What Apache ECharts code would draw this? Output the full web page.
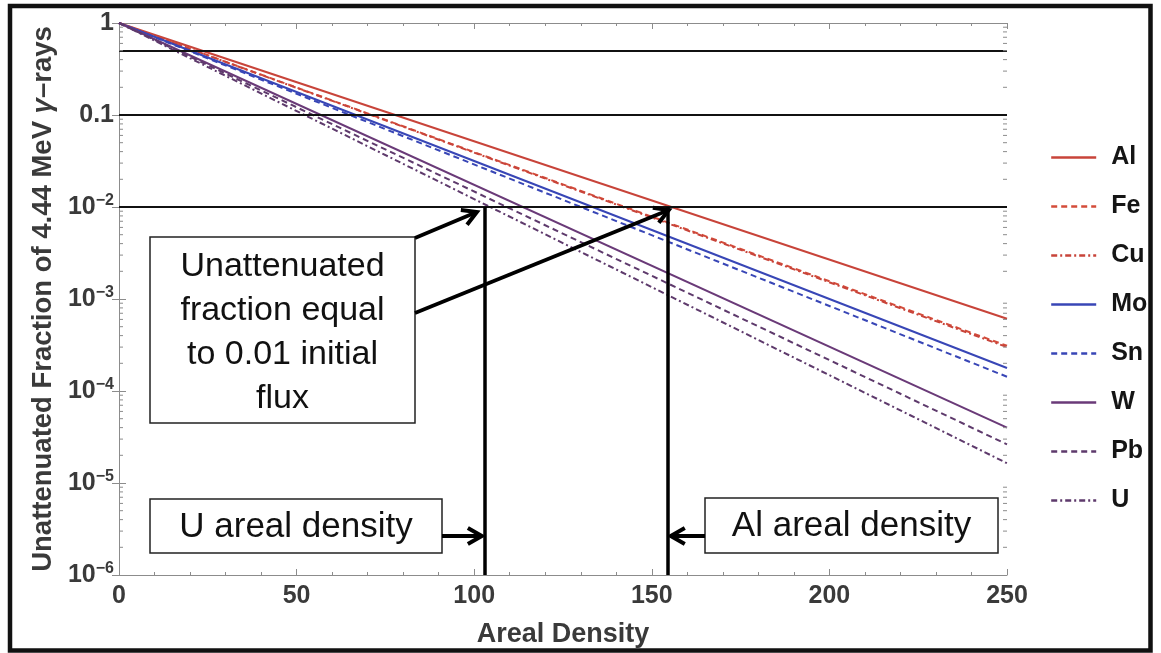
<!DOCTYPE html>
<html>
<head>
<meta charset="utf-8">
<script src="https://cdn.jsdelivr.net/npm/echarts@6/dist/echarts.min.js"></script>
<style>
  html, body { margin: 0; padding: 0; background: #fff; }
  #chart { width: 1161px; height: 653px; }
</style>
</head>
<body>
<div id="chart"></div>
<script>
// Unattenuated fraction of 4.44 MeV gamma rays versus areal density.
// Each material decays exponentially, so on a log axis it is a straight
// line from the unattenuated start to its value at the far end.
const materials = ['Al', 'Fe', 'Cu', 'Mo', 'Sn', 'W', 'Pb', 'U'];
const densityRange = [0, 250];
const fractionAtStart = [1, 1, 1, 1, 1, 1, 1, 1];
const fractionAtEnd = [6.1e-4, 3.1e-4, 3.0e-4, 1.78e-4, 1.43e-4, 4.0e-5, 2.63e-5, 1.64e-5];

// Horizontal reference levels and the 1% crossing densities
const referenceLevels = [0.5, 0.1, 1e-2, 1e-3, 1e-4, 1e-5];
const targetFraction = 0.01;
const uDensity = 103;
const alDensity = 154.5;
const yMin = 1e-6;
const yMax = 1;

const bigNote = 'Unattenuated\nfraction equal\nto 0.01 initial\nflux';
const uNote = 'U areal density';
const alNote = 'Al areal density';

const lineLooks = [
  { color: '#c8443a', type: 'solid' },
  { color: '#d44c3a', type: [6, 4] },
  { color: '#c8443a', type: [6, 3, 2, 3] },
  { color: '#3846b6', type: 'solid' },
  { color: '#3846b6', type: [6, 4] },
  { color: '#6a3a78', type: 'solid' },
  { color: '#5e3a6c', type: [6, 4] },
  { color: '#5e3a6c', type: [6, 3, 2, 3] }
];

const FONT = 'Liberation Sans, Arial, sans-serif';
const TXT = '#3a3a3a';
const FRAME = '#8c8c8c';

const chart = echarts.init(document.getElementById('chart'), null, { renderer: 'canvas' });

function yLabel(v) {
  const e = Math.round(Math.log10(v));
  if (e === 0) return '1';
  if (e === -1) return '0.1';
  return '10{sup|\u2212' + (-e) + '}';
}

const materialSeries = materials.map((name, i) => ({
  name: name,
  type: 'line',
  xAxisIndex: 0,
  yAxisIndex: 0,
  symbol: 'none',
  silent: true,
  z: 3,
  lineStyle: { color: lineLooks[i].color, type: lineLooks[i].type, width: 2 },
  itemStyle: { color: lineLooks[i].color },
  data: [[densityRange[0], fractionAtStart[i]], [densityRange[1], fractionAtEnd[i]]]
}));

const levelSeries = {
  name: 'levels',
  type: 'line',
  data: [],
  z: 2,
  silent: true,
  markLine: {
    silent: true,
    symbol: 'none',
    label: { show: false },
    lineStyle: { color: '#111', width: 1.8, type: 'solid' },
    data: referenceLevels.map(v => ({ yAxis: v }))
  }
};

const crossingSeries = {
  name: 'crossings',
  type: 'line',
  data: [],
  z: 4,
  silent: true,
  markLine: {
    silent: true,
    symbol: 'none',
    label: { show: false },
    lineStyle: { color: '#000', width: 3.5, type: 'solid' },
    data: [
      [{ coord: [uDensity, targetFraction] }, { coord: [uDensity, yMin] }],
      [{ coord: [alDensity, targetFraction] }, { coord: [alDensity, yMin] }]
    ]
  }
};

const option = {
  animation: false,
  backgroundColor: '#fff',
  grid: { left: 119, right: 154, top: 23, bottom: 76, containLabel: false },
  legend: {
    data: materials,
    orient: 'vertical',
    left: 1045,
    top: 140,
    itemWidth: 45,
    itemHeight: 14,
    itemGap: 24,
    itemStyle: { opacity: 0 },
    lineStyle: { width: 2.4 },
    textStyle: { fontFamily: FONT, fontWeight: 'bold', fontSize: 25, color: '#151515', padding: [0, 0, 0, 10] },
    selectedMode: false
  },
  xAxis: [
    {
      type: 'value', position: 'bottom', min: 0, max: 250, interval: 50,
      name: 'Areal Density', nameLocation: 'middle', nameGap: 46,
      nameTextStyle: { fontFamily: FONT, fontWeight: 'bold', fontSize: 27, color: TXT },
      axisLine: { show: true, lineStyle: { color: FRAME, width: 1 } },
      axisTick: { show: true, inside: true, length: 6, lineStyle: { color: FRAME } },
      minorTick: { show: true, splitNumber: 5, length: 3, lineStyle: { color: FRAME } },
      axisLabel: { fontFamily: FONT, fontWeight: 'bold', fontSize: 25, color: TXT, margin: 9 },
      splitLine: { show: false }
    },
    {
      type: 'value', position: 'top', min: 0, max: 250, interval: 50,
      axisLine: { show: true, lineStyle: { color: FRAME, width: 1 } },
      axisTick: { show: true, inside: true, length: 6, lineStyle: { color: FRAME } },
      minorTick: { show: true, splitNumber: 5, length: 3, lineStyle: { color: FRAME } },
      axisLabel: { show: false },
      splitLine: { show: false }
    }
  ],
  yAxis: [
    {
      type: 'log', logBase: 10, min: yMin, max: yMax, interval: 1, position: 'left',
      name: 'Unattenuated Fraction of 4.44 MeV {g|\u03b3}\u2013rays',
      nameLocation: 'middle', nameGap: 62, nameRotate: 90,
      nameTextStyle: {
        fontFamily: FONT, fontWeight: 'bold', fontSize: 27.5, color: TXT,
        rich: { g: { fontFamily: FONT, fontWeight: 'bold', fontStyle: 'italic', fontSize: 27.5, color: TXT } }
      },
      axisLine: { show: true, lineStyle: { color: FRAME, width: 1 } },
      axisTick: { show: true, inside: true, length: 7, lineStyle: { color: FRAME } },
      axisLabel: {
        fontFamily: FONT, fontWeight: 'bold', fontSize: 25, color: TXT, margin: 5,
        formatter: yLabel,
        rich: {
          sup: { fontFamily: FONT, fontWeight: 'bold', fontSize: 16, color: TXT, padding: [0, 0, 12, 0] }
        }
      },
      splitLine: { show: false }
    },
    {
      type: 'log', logBase: 10, min: yMin, max: yMax, interval: 1, position: 'right',
      axisLine: { show: true, lineStyle: { color: FRAME, width: 1 } },
      axisTick: { show: true, inside: true, length: 7, lineStyle: { color: FRAME } },
      axisLabel: { show: false },
      splitLine: { show: false }
    }
  ],
  series: [levelSeries].concat(materialSeries, [crossingSeries])
};

chart.setOption(option);

// Annotations placed after the axes exist, anchored to data positions
const toPx = (x, y) => chart.convertToPixel({ xAxisIndex: 0, yAxisIndex: 0 }, [x, y]);
const plotLeft = toPx(0, 1)[0];
const plotRight = toPx(250, 1)[0];

const g = [];

// minor log ticks on left and right frame
for (let e = -6; e < 0; e++) {
  for (let k = 2; k <= 9; k++) {
    const py = toPx(0, k * Math.pow(10, e))[1];
    g.push({ type: 'line', silent: true, z: 5, shape: { x1: plotLeft, y1: py, x2: plotLeft + 4, y2: py }, style: { stroke: FRAME, lineWidth: 1 } });
    g.push({ type: 'line', silent: true, z: 5, shape: { x1: plotRight, y1: py, x2: plotRight - 4, y2: py }, style: { stroke: FRAME, lineWidth: 1 } });
  }
}

function arrow(x1, y1, x2, y2) {
  const a = Math.atan2(y2 - y1, x2 - x1);
  const L = 14, W = 8;
  const bx = x2 - L * Math.cos(a), by = y2 - L * Math.sin(a);
  const nx = -Math.sin(a), ny = Math.cos(a);
  g.push({ type: 'line', silent: true, z: 20, shape: { x1, y1, x2: x2 - 2 * Math.cos(a), y2: y2 - 2 * Math.sin(a) },
    style: { stroke: '#000', lineWidth: 3.8, lineCap: 'butt' } });
  g.push({ type: 'polyline', silent: true, z: 20,
    shape: { points: [[bx + nx * W, by + ny * W], [x2, y2], [bx - nx * W, by - ny * W]] },
    style: { stroke: '#000', lineWidth: 4, fill: null, lineJoin: 'miter' } });
}

function noteBox(x, y, w, h, text, size, dy) {
  g.push({ type: 'rect', silent: true, z: 15, shape: { x, y, width: w, height: h },
    style: { fill: '#fff', stroke: '#222', lineWidth: 1.5 } });
  g.push({ type: 'text', silent: true, z: 16, x: x + w / 2, y: y + h / 2 + dy,
    style: { text, fill: '#111', font: size + 'px ' + FONT, align: 'center', verticalAlign: 'middle', lineHeight: 44 } });
}

noteBox(150, 237, 265, 186, bigNote, 34, 3);
noteBox(150, 499, 292, 54, uNote, 35, 1);
noteBox(705, 498, 293, 55, alNote, 35, 1);

const uTop = toPx(uDensity, targetFraction);
const alTop = toPx(alDensity, targetFraction);
const arrowRow = 536;
arrow(415, 238, uTop[0] - 8, uTop[1] + 5);
arrow(415, 313, alTop[0] + 1, alTop[1] + 3);
arrow(442, arrowRow, uTop[0] - 3, arrowRow);
arrow(705, arrowRow, alTop[0] + 3, arrowRow);

// outer frame
g.push({ type: 'rect', silent: true, z: 30, shape: { x: 10, y: 6, width: 1140.5, height: 644.5 },
  style: { fill: null, stroke: '#111', lineWidth: 4.5 } });

chart.setOption({ graphic: g });
</script>
</body>
</html>
